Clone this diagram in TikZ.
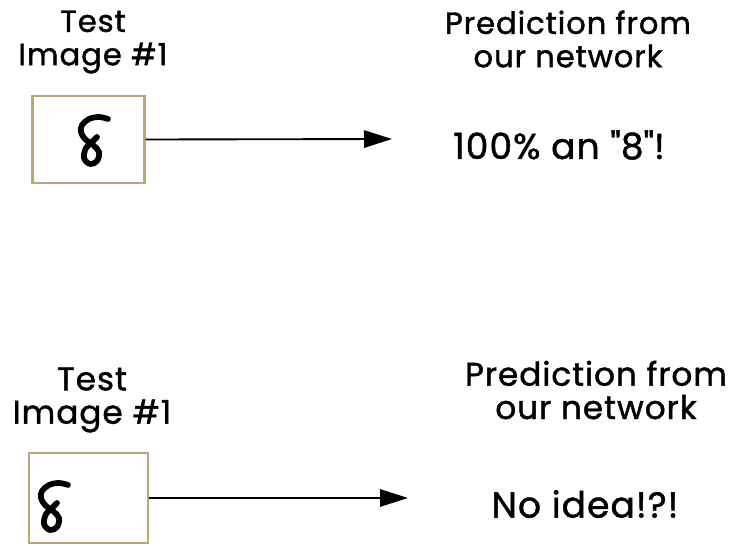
\documentclass[tikz,border=0pt]{standalone}
\usepackage{fontspec}
\setmainfont{Poppins}
\newfontfamily\capfont[FakeBold=1.3, LetterSpace=3]{Poppins}
\usepackage{tikz}
\usetikzlibrary{arrows.meta, positioning}
\definecolor{framebrown}{HTML}{B8A872}

\begin{document}
\begin{tikzpicture}[x=0.75pt, y=-0.75pt,
  imgbox/.style={rectangle, draw=framebrown, line width=1.6pt, fill=white,
                 minimum width=#1, inner sep=0pt},
  caption/.style={align=center, font=\capfont\fontsize{#1}{25}\selectfont, inner sep=0pt},
  caption/.default=23,
  answer/.style={font=\capfont\fontsize{27}{27}\selectfont, inner sep=0pt},
  arr/.style={-{Triangle[length=21pt, width=13pt]}, line width=1.4pt},
  eight/.pic={
    \draw[line width=4.3pt, line cap=round, line join=round]
      plot[smooth, tension=0.6] coordinates {(0,0) (-9,-2) (-19,0) (-26,6)
        (-27,13) (-23,20) (-15,26) (-9,33) (-11,42) (-18,45) (-24,39)
        (-22,29) (-16,23) (-11,18)};
  }
]
  \useasboundingbox (0,0) rectangle (732,546);

  % first test image
  \node[imgbox=84pt, minimum height=65pt] (img1) at (88.5,139.5) {};
  \pic at (108,119) {eight};
  \node[caption] (test1) at (93,42) {Test\\Image \#1};
  \node[caption] (pred1) at (568,39) {Prediction from\\our network};
  \node[answer]  (ans1)  at (559,145) {100\% an \textquotedbl 8\textquotedbl!};
  \coordinate (tip1) at (392,139);
  \draw[arr] (img1.east) -- (tip1);

  % second test image
  \node[imgbox=89pt, minimum height=67.5pt] (img2) at (88.5,498) {};
  \pic at (68,485) {eight};
  \node[caption=24.5] (test2) at (92,400) {Test\\Image \#1};
  \node[caption=24.5] (pred2) at (596,390) {Prediction from\\our network};
  \node[answer]  (ans2)  at (585,504) {No idea!?!};
  \coordinate (tip2) at (408,498);
  \draw[arr] (img2.east) -- (tip2);
\end{tikzpicture}
\end{document}
